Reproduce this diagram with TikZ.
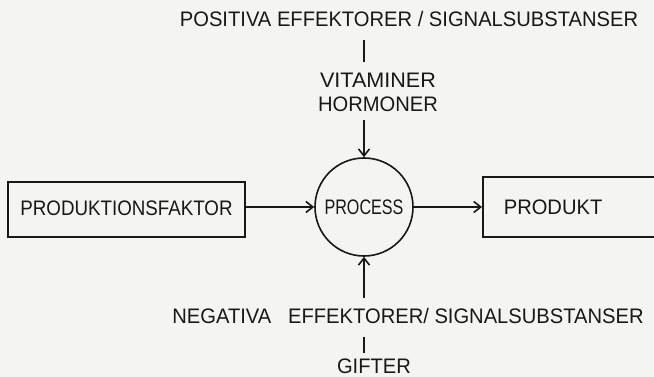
\documentclass[tikz,border=0pt]{standalone}
\usepackage{fontspec}
\setmainfont{Liberation Sans}[FakeStretch=0.96]
\usetikzlibrary{arrows.meta}
\definecolor{paper}{HTML}{F4F4F2}
\definecolor{ink}{HTML}{181818}
\newcommand{\narrow}[2]{\scalebox{#1}[1]{#2}}
\tikzset{
  hand/.style={text=ink, font=\fontsize{21}{25}\selectfont},
  lbl/.style={hand, inner sep=0pt, anchor=base},
  box/.style={hand, draw=ink, line width=1.6pt, inner sep=0pt},
  proc/.style={hand, draw=ink, circle, line width=1.6pt, minimum size=98pt, inner sep=0pt},
  link/.style={draw=ink, line width=1.6pt},
  arr/.style={link, -{Straight Barb[length=7pt,width=11pt,line width=1.6pt]}}
}
\begin{document}
\begin{tikzpicture}[x=1pt,y=-1pt]
  \useasboundingbox (0,0) rectangle (654,377);
  \fill[paper] (0,0) rectangle (654,377);
  \clip (0,0) rectangle (654,377);

  % effectors above the process
  \node[lbl] (pos) at (409,27) {POSITIVA EFFEKTORER / SIGNALSUBSTANSER};
  \node[lbl] (vit) at (378,88) {\narrow{1.07}{VITAMINER}};
  \node[lbl] (horm) at (378,112) {HORMONER};

  % main flow
  \node[box, minimum width=237pt, minimum height=55pt] (prodf) at (126.5,209.5) {\raisebox{3pt}{\narrow{0.93}{PRODUKTIONSFAKTOR}}};
  \node[proc] (proc) at (364,207) {\narrow{0.8}{PROCESS}};
  \node[box, anchor=west, minimum height=60pt, text width=200pt, align=left, inner xsep=21pt] (prod) at (482,207) {PRODUKT};

  % effectors below the process
  \node[lbl] (neg) at (408,323) {NEGATIVA\hspace{0.8em}EFFEKTORER/ SIGNALSUBSTANSER};
  \node[lbl] (gift) at (374,373) {GIFTER};

  % connectors
  \draw[link, shorten <=13pt, shorten >=11pt] (pos.south -| proc) -- (vit.north -| proc);
  \draw[arr, shorten <=8pt] (horm.south -| proc) -- (proc);
  \draw[arr] (prodf.east |- proc) -- (proc);
  \draw[arr] (proc) -- (prod);
  \draw[arr, shorten <=10pt] (neg.north -| proc) -- (proc);
  \draw[link, shorten <=14pt, shorten >=5pt] (neg.south -| proc) -- (gift.north -| proc);
\end{tikzpicture}
\end{document}
